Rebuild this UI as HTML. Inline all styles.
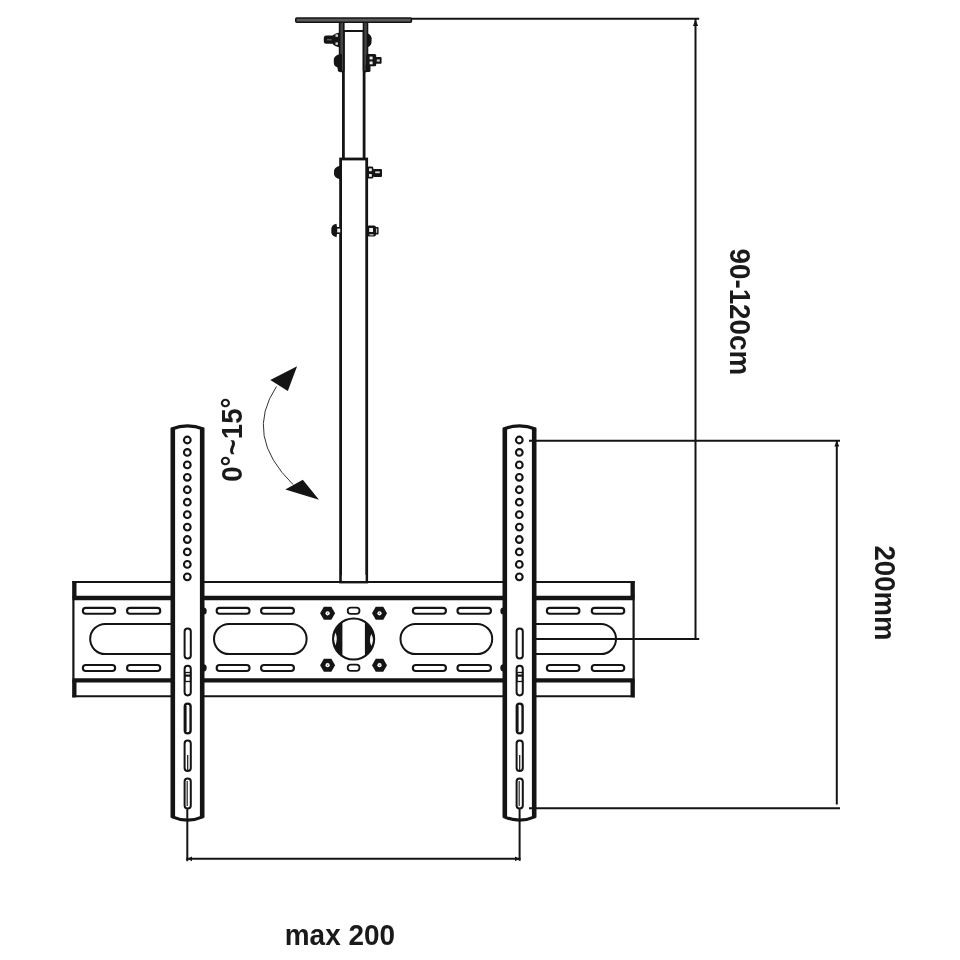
<!DOCTYPE html>
<html><head><meta charset="utf-8"><title>Ceiling mount diagram</title>
<style>
html,body{margin:0;padding:0;background:#fff;}
body{width:960px;height:960px;overflow:hidden;font-family:"Liberation Sans",sans-serif;}
svg{display:block;filter:blur(0.4px);}
svg text{filter:grayscale(1);}
</style></head><body>
<svg width="960" height="960" viewBox="0 0 960 960">
<rect width="960" height="960" fill="#fff"/>
<rect x="73" y="581" width="561" height="116" fill="#fff"/>
<line x1="72.5" y1="582" x2="634.5" y2="582" stroke="#141414" stroke-width="2"/>
<line x1="72.5" y1="696.3" x2="634.5" y2="696.3" stroke="#141414" stroke-width="2"/>
<line x1="72.5" y1="598" x2="634.5" y2="598" stroke="#141414" stroke-width="4.4"/>
<line x1="72.5" y1="680.4" x2="634.5" y2="680.4" stroke="#141414" stroke-width="4.4"/>
<line x1="73.4" y1="581" x2="73.4" y2="697.3" stroke="#141414" stroke-width="2.2"/>
<line x1="633.6" y1="581" x2="633.6" y2="697.3" stroke="#141414" stroke-width="2.2"/>
<line x1="74.5" y1="581" x2="74.5" y2="598" stroke="#141414" stroke-width="4"/>
<line x1="74.5" y1="680" x2="74.5" y2="697.3" stroke="#141414" stroke-width="4"/>
<line x1="632.5" y1="581" x2="632.5" y2="598" stroke="#141414" stroke-width="4"/>
<line x1="632.5" y1="680" x2="632.5" y2="697.3" stroke="#141414" stroke-width="4"/>
<rect x="82.85" y="607.85" width="32.30" height="5.90" rx="2.95" fill="#fff" stroke="#141414" stroke-width="2.1"/>
<rect x="82.85" y="665.05" width="32.30" height="5.90" rx="2.95" fill="#fff" stroke="#141414" stroke-width="2.1"/>
<rect x="127.05" y="607.85" width="33.20" height="5.90" rx="2.95" fill="#fff" stroke="#141414" stroke-width="2.1"/>
<rect x="127.05" y="665.05" width="33.20" height="5.90" rx="2.95" fill="#fff" stroke="#141414" stroke-width="2.1"/>
<rect x="216.65" y="607.85" width="32.90" height="5.90" rx="2.95" fill="#fff" stroke="#141414" stroke-width="2.1"/>
<rect x="216.65" y="665.05" width="32.90" height="5.90" rx="2.95" fill="#fff" stroke="#141414" stroke-width="2.1"/>
<rect x="261.05" y="607.85" width="32.90" height="5.90" rx="2.95" fill="#fff" stroke="#141414" stroke-width="2.1"/>
<rect x="261.05" y="665.05" width="32.90" height="5.90" rx="2.95" fill="#fff" stroke="#141414" stroke-width="2.1"/>
<rect x="412.85" y="607.85" width="33.10" height="5.90" rx="2.95" fill="#fff" stroke="#141414" stroke-width="2.1"/>
<rect x="412.85" y="665.05" width="33.10" height="5.90" rx="2.95" fill="#fff" stroke="#141414" stroke-width="2.1"/>
<rect x="457.45" y="607.85" width="33.50" height="5.90" rx="2.95" fill="#fff" stroke="#141414" stroke-width="2.1"/>
<rect x="457.45" y="665.05" width="33.50" height="5.90" rx="2.95" fill="#fff" stroke="#141414" stroke-width="2.1"/>
<rect x="546.85" y="607.85" width="32.60" height="5.90" rx="2.95" fill="#fff" stroke="#141414" stroke-width="2.1"/>
<rect x="546.85" y="665.05" width="32.60" height="5.90" rx="2.95" fill="#fff" stroke="#141414" stroke-width="2.1"/>
<rect x="591.75" y="607.85" width="32.50" height="5.90" rx="2.95" fill="#fff" stroke="#141414" stroke-width="2.1"/>
<rect x="591.75" y="665.05" width="32.50" height="5.90" rx="2.95" fill="#fff" stroke="#141414" stroke-width="2.1"/>
<rect x="90.20" y="623.90" width="108.80" height="30.20" rx="15.10" fill="#fff" stroke="#141414" stroke-width="2"/>
<rect x="214.00" y="623.90" width="92.60" height="30.20" rx="15.10" fill="#fff" stroke="#141414" stroke-width="2"/>
<rect x="400.50" y="623.90" width="91.70" height="30.20" rx="15.10" fill="#fff" stroke="#141414" stroke-width="2"/>
<rect x="509.00" y="623.90" width="107.00" height="30.20" rx="15.10" fill="#fff" stroke="#141414" stroke-width="2"/>
<rect x="347.70" y="607.60" width="11.80" height="6.20" rx="3.10" fill="#fff" stroke="#141414" stroke-width="1.8"/>
<rect x="347.70" y="664.70" width="11.80" height="6.20" rx="3.10" fill="#fff" stroke="#141414" stroke-width="1.8"/>
<polygon points="335.10,613.30 331.35,619.80 323.85,619.80 320.10,613.30 323.85,606.80 331.35,606.80" fill="#141414"/><circle cx="327.6" cy="613.3" r="2.1" fill="#fff"/><circle cx="327.6" cy="613.3" r="0.8" fill="#777"/>
<polygon points="335.10,665.20 331.35,671.70 323.85,671.70 320.10,665.20 323.85,658.70 331.35,658.70" fill="#141414"/><circle cx="327.6" cy="665.2" r="2.1" fill="#fff"/><circle cx="327.6" cy="665.2" r="0.8" fill="#777"/>
<polygon points="387.00,613.30 383.25,619.80 375.75,619.80 372.00,613.30 375.75,606.80 383.25,606.80" fill="#141414"/><circle cx="379.5" cy="613.3" r="2.1" fill="#fff"/><circle cx="379.5" cy="613.3" r="0.8" fill="#777"/>
<polygon points="387.00,665.20 383.25,671.70 375.75,671.70 372.00,665.20 375.75,658.70 383.25,658.70" fill="#141414"/><circle cx="379.5" cy="665.2" r="2.1" fill="#fff"/><circle cx="379.5" cy="665.2" r="0.8" fill="#777"/>
<clipPath id="cc"><circle cx="353.6" cy="639" r="20.6"/></clipPath>
<circle cx="353.6" cy="639" r="20.6" fill="#fff"/>
<g clip-path="url(#cc)"><rect x="330" y="615" width="12.4" height="50" fill="#141414"/><rect x="364.9" y="615" width="13" height="50" fill="#141414"/></g>
<path d="M335.4,632.6 Q332.6,639 335.4,645.4 Q338.2,639 335.4,632.6Z" fill="#f4f4f4"/>
<path d="M371.4,634 Q374.6,640 371.4,646 Q368.4,640 371.4,634Z" fill="#f4f4f4"/>
<circle cx="353.6" cy="639" r="20.6" fill="none" stroke="#141414" stroke-width="2"/>
<rect x="340.6" y="159" width="26.1" height="423" fill="#fff" stroke="#141414" stroke-width="2.8"/>
<rect x="341.8" y="575" width="23.7" height="6" fill="#fff"/>
<line x1="339" y1="582" x2="369" y2="582" stroke="#141414" stroke-width="2"/>
<line x1="343.4" y1="31" x2="343.4" y2="159" stroke="#141414" stroke-width="2.8"/>
<line x1="364.1" y1="31" x2="364.1" y2="159" stroke="#141414" stroke-width="2.8"/>
<line x1="343" y1="31" x2="364" y2="31" stroke="#141414" stroke-width="2"/>
<rect x="339.6" y="22" width="4.2" height="49.5" rx="1" fill="#444" stroke="#141414" stroke-width="1.6"/>
<rect x="363.5" y="22" width="4.0" height="49.5" rx="1" fill="#444" stroke="#141414" stroke-width="1.6"/>
<rect x="295.8" y="18" width="115.6" height="4.3" rx="1" fill="#5a5a5a" stroke="#141414" stroke-width="1.6"/>
<rect x="323.8" y="35.6" width="14" height="8.2" rx="2.5" fill="#141414"/>
<line x1="327" y1="39.8" x2="336" y2="39.8" stroke="#777" stroke-width="1"/>
<path d="M339.5,32.5 Q331,34 331.5,39.8 Q331,45.5 339.5,47.5Z" fill="#141414"/>
<rect x="335.5" y="34.4" width="2.4" height="2.4" fill="#ddd"/><rect x="335.5" y="42.4" width="2.4" height="2.4" fill="#ddd"/>
<path d="M367,33 Q372.5,35 371.6,40.5 Q372,46 367,47.5Z" fill="#141414"/>
<path d="M340,54 Q332.5,56 333.8,62 Q333.5,66 337.5,67.5 L338,71.5 L342,71.5 L342,54Z" fill="#141414"/>
<rect x="366" y="54" width="10.2" height="12.3" rx="1.5" fill="#141414"/>
<rect x="365.5" y="64" width="5" height="8" rx="1.5" fill="#141414"/>
<rect x="369.6" y="56.6" width="3" height="2.8" fill="#eee"/><rect x="369.6" y="61.5" width="3" height="2.8" fill="#eee"/>
<rect x="375" y="57" width="6.6" height="6.8" rx="1" fill="#141414"/><rect x="376.8" y="59.4" width="3" height="2.2" fill="#ccc"/>
<path d="M341,165.6 Q333.2,167 334,172.5 Q333.2,178 341,179.4Z" fill="#141414"/>
<rect x="367" y="166.6" width="6.4" height="12" rx="1.5" fill="#141414"/>
<rect x="369" y="168.4" width="2.8" height="2.8" fill="#eee"/><rect x="369" y="174" width="2.8" height="2.8" fill="#eee"/>
<rect x="373" y="169" width="9" height="8" rx="1" fill="#141414"/><rect x="375.2" y="171.4" width="4.6" height="1.8" fill="#ddd"/>
<path d="M336.5,223.8 Q330.6,225 331.3,230.5 Q330.6,236 336.5,237.2 L337,234 L341,234 L341,227 L337,227Z" fill="#141414"/>
<rect x="337.2" y="228.6" width="3" height="3.8" fill="#eee"/>
<rect x="367" y="225.6" width="9" height="10.8" rx="2" fill="#141414"/>
<rect x="369.2" y="228" width="3.8" height="4" fill="#eee"/>
<rect x="375" y="227" width="3.6" height="7.4" rx="1" fill="#141414"/><rect x="376" y="228.4" width="1.2" height="4.4" fill="#bbb"/>
<rect x="369.4" y="234.2" width="4.2" height="1.2" fill="#ccc"/>
<ellipse cx="203.7" cy="611" rx="3" ry="3.6" fill="#141414"/>
<ellipse cx="203.7" cy="667.8" rx="3" ry="3.6" fill="#141414"/>
<path d="M172.8,429 Q187.5,423 202.2,429 L202.2,816.4 Q187.5,823.6 172.8,816.4Z" fill="#fff"/><path d="M171.60000000000002,428.9 Q187.5,422.9 203.39999999999998,428.9" fill="none" stroke="#141414" stroke-width="3.2"/><path d="M171.60000000000002,816.6 Q187.5,823.6 203.39999999999998,816.6" fill="none" stroke="#141414" stroke-width="3.2"/><line x1="172.8" y1="427.8" x2="172.8" y2="817.6" stroke="#141414" stroke-width="4.6"/><line x1="202.2" y1="427.8" x2="202.2" y2="817.6" stroke="#141414" stroke-width="4.6"/><circle cx="187.3" cy="440.00" r="3.35" fill="#fff" stroke="#141414" stroke-width="2.1"/><circle cx="187.3" cy="452.44" r="3.35" fill="#fff" stroke="#141414" stroke-width="2.1"/><circle cx="187.3" cy="464.88" r="3.35" fill="#fff" stroke="#141414" stroke-width="2.1"/><circle cx="187.3" cy="477.32" r="3.35" fill="#fff" stroke="#141414" stroke-width="2.1"/><circle cx="187.3" cy="489.76" r="3.35" fill="#fff" stroke="#141414" stroke-width="2.1"/><circle cx="187.3" cy="502.20" r="3.35" fill="#fff" stroke="#141414" stroke-width="2.1"/><circle cx="187.3" cy="514.64" r="3.35" fill="#fff" stroke="#141414" stroke-width="2.1"/><circle cx="187.3" cy="527.08" r="3.35" fill="#fff" stroke="#141414" stroke-width="2.1"/><circle cx="187.3" cy="539.52" r="3.35" fill="#fff" stroke="#141414" stroke-width="2.1"/><circle cx="187.3" cy="551.96" r="3.35" fill="#fff" stroke="#141414" stroke-width="2.1"/><circle cx="187.3" cy="564.40" r="3.35" fill="#fff" stroke="#141414" stroke-width="2.1"/><circle cx="187.3" cy="576.84" r="3.35" fill="#fff" stroke="#141414" stroke-width="2.1"/><rect x="184.60" y="628.40" width="6.20" height="30.20" rx="3.10" fill="#fff" stroke="#141414" stroke-width="2.0"/><rect x="184.60" y="665.80" width="6.20" height="29.60" rx="3.10" fill="#fff" stroke="#141414" stroke-width="2.0"/><rect x="184.9" y="672.5" width="5.6" height="9" fill="none" stroke="#141414" stroke-width="1.3"/><line x1="184.5" y1="675.6" x2="190.7" y2="675.6" stroke="#141414" stroke-width="2.2"/><rect x="184.80" y="703.60" width="5.80" height="29.80" rx="2.90" fill="#fff" stroke="#141414" stroke-width="2.4"/><line x1="185.6" y1="706" x2="185.6" y2="731" stroke="#141414" stroke-width="2"/><rect x="184.60" y="740.60" width="6.20" height="30.40" rx="3.10" fill="#fff" stroke="#141414" stroke-width="2.0"/><line x1="187.7" y1="755" x2="187.7" y2="771" stroke="#141414" stroke-width="1.2"/><rect x="184.60" y="778.40" width="6.20" height="30.20" rx="3.10" fill="#fff" stroke="#141414" stroke-width="2.0"/><line x1="187.2" y1="781" x2="187.2" y2="806" stroke="#333" stroke-width="1.3"/>
<ellipse cx="503.3" cy="611" rx="3" ry="3.6" fill="#141414"/>
<ellipse cx="503.3" cy="667.8" rx="3" ry="3.6" fill="#141414"/>
<path d="M504.8,429 Q519.5,423 534.2,429 L534.2,816.4 Q519.5,823.6 504.8,816.4Z" fill="#fff"/><path d="M503.6,428.9 Q519.5,422.9 535.4000000000001,428.9" fill="none" stroke="#141414" stroke-width="3.2"/><path d="M503.6,816.6 Q519.5,823.6 535.4000000000001,816.6" fill="none" stroke="#141414" stroke-width="3.2"/><line x1="504.8" y1="427.8" x2="504.8" y2="817.6" stroke="#141414" stroke-width="4.6"/><line x1="534.2" y1="427.8" x2="534.2" y2="817.6" stroke="#141414" stroke-width="4.6"/><circle cx="519.3" cy="440.00" r="3.35" fill="#fff" stroke="#141414" stroke-width="2.1"/><circle cx="519.3" cy="452.44" r="3.35" fill="#fff" stroke="#141414" stroke-width="2.1"/><circle cx="519.3" cy="464.88" r="3.35" fill="#fff" stroke="#141414" stroke-width="2.1"/><circle cx="519.3" cy="477.32" r="3.35" fill="#fff" stroke="#141414" stroke-width="2.1"/><circle cx="519.3" cy="489.76" r="3.35" fill="#fff" stroke="#141414" stroke-width="2.1"/><circle cx="519.3" cy="502.20" r="3.35" fill="#fff" stroke="#141414" stroke-width="2.1"/><circle cx="519.3" cy="514.64" r="3.35" fill="#fff" stroke="#141414" stroke-width="2.1"/><circle cx="519.3" cy="527.08" r="3.35" fill="#fff" stroke="#141414" stroke-width="2.1"/><circle cx="519.3" cy="539.52" r="3.35" fill="#fff" stroke="#141414" stroke-width="2.1"/><circle cx="519.3" cy="551.96" r="3.35" fill="#fff" stroke="#141414" stroke-width="2.1"/><circle cx="519.3" cy="564.40" r="3.35" fill="#fff" stroke="#141414" stroke-width="2.1"/><circle cx="519.3" cy="576.84" r="3.35" fill="#fff" stroke="#141414" stroke-width="2.1"/><rect x="516.60" y="628.40" width="6.20" height="30.20" rx="3.10" fill="#fff" stroke="#141414" stroke-width="2.0"/><rect x="516.60" y="665.80" width="6.20" height="29.60" rx="3.10" fill="#fff" stroke="#141414" stroke-width="2.0"/><rect x="516.9" y="672.5" width="5.6" height="9" fill="none" stroke="#141414" stroke-width="1.3"/><line x1="516.5" y1="675.6" x2="522.7" y2="675.6" stroke="#141414" stroke-width="2.2"/><rect x="516.80" y="703.60" width="5.80" height="29.80" rx="2.90" fill="#fff" stroke="#141414" stroke-width="2.4"/><line x1="517.6" y1="706" x2="517.6" y2="731" stroke="#141414" stroke-width="2"/><rect x="516.60" y="740.60" width="6.20" height="30.40" rx="3.10" fill="#fff" stroke="#141414" stroke-width="2.0"/><line x1="519.7" y1="755" x2="519.7" y2="771" stroke="#141414" stroke-width="1.2"/><rect x="516.60" y="778.40" width="6.20" height="30.20" rx="3.10" fill="#fff" stroke="#141414" stroke-width="2.0"/><line x1="519.2" y1="781" x2="519.2" y2="806" stroke="#333" stroke-width="1.3"/>
<line x1="411" y1="18.8" x2="699.2" y2="18.8" stroke="#141414" stroke-width="2.0"/>
<line x1="695.5" y1="18.8" x2="695.5" y2="639.8" stroke="#141414" stroke-width="2.0"/>
<line x1="536" y1="639" x2="699.2" y2="639" stroke="#141414" stroke-width="2.0"/>
<path d="M695.5,19.5 L692.9,26 L698.1,26Z" fill="#141414"/>
<line x1="529" y1="440.7" x2="840" y2="440.7" stroke="#141414" stroke-width="2.0"/>
<line x1="529" y1="808.2" x2="840" y2="808.2" stroke="#141414" stroke-width="2.0"/>
<line x1="836.8" y1="440.7" x2="836.8" y2="804.6" stroke="#141414" stroke-width="2.0"/>
<path d="M836.8,441 L834.3,446.6 L839.3,446.6Z" fill="#141414"/>
<line x1="187.3" y1="808" x2="187.3" y2="861.2" stroke="#141414" stroke-width="2.0"/>
<line x1="519.6" y1="808" x2="519.6" y2="860.8" stroke="#141414" stroke-width="2.0"/>
<line x1="186.3" y1="858.8" x2="520.6" y2="858.8" stroke="#141414" stroke-width="2.0"/>
<path d="M187.5,858.8 L192,856.4 L192,861.2Z" fill="#141414"/>
<path d="M519.5,858.8 L515,856.4 L515,861.2Z" fill="#141414"/>
<path d="M276.5,386.5 Q243.5,436 293,484.5" fill="none" stroke="#333" stroke-width="1"/>
<polygon points="297.1,366.2 270.3,380 287.8,391" fill="#141414"/>
<polygon points="319,499.8 285.3,489.4 302.8,479.7" fill="#141414"/>
<text x="284.8" y="944.5" font-family="Liberation Sans, sans-serif" font-weight="bold" font-size="29" fill="#1a1a1a" opacity="0.996" textLength="110.2" lengthAdjust="spacingAndGlyphs">max 200</text>
<text transform="translate(730.3,248.5) rotate(90)" font-family="Liberation Sans, sans-serif" font-weight="bold" font-size="29" fill="#1a1a1a" opacity="0.996" textLength="126.6" lengthAdjust="spacingAndGlyphs">90-120cm</text>
<text transform="translate(874.7,545.5) rotate(90)" font-family="Liberation Sans, sans-serif" font-weight="bold" font-size="29" fill="#1a1a1a" opacity="0.996" textLength="95" lengthAdjust="spacingAndGlyphs">200mm</text>
<text transform="translate(242.2,481.8) rotate(-90)" font-family="Liberation Sans, sans-serif" font-weight="bold" font-size="29" fill="#1a1a1a" opacity="0.996" textLength="84.4" lengthAdjust="spacingAndGlyphs">0°~15°</text>
</svg>
</body></html>
